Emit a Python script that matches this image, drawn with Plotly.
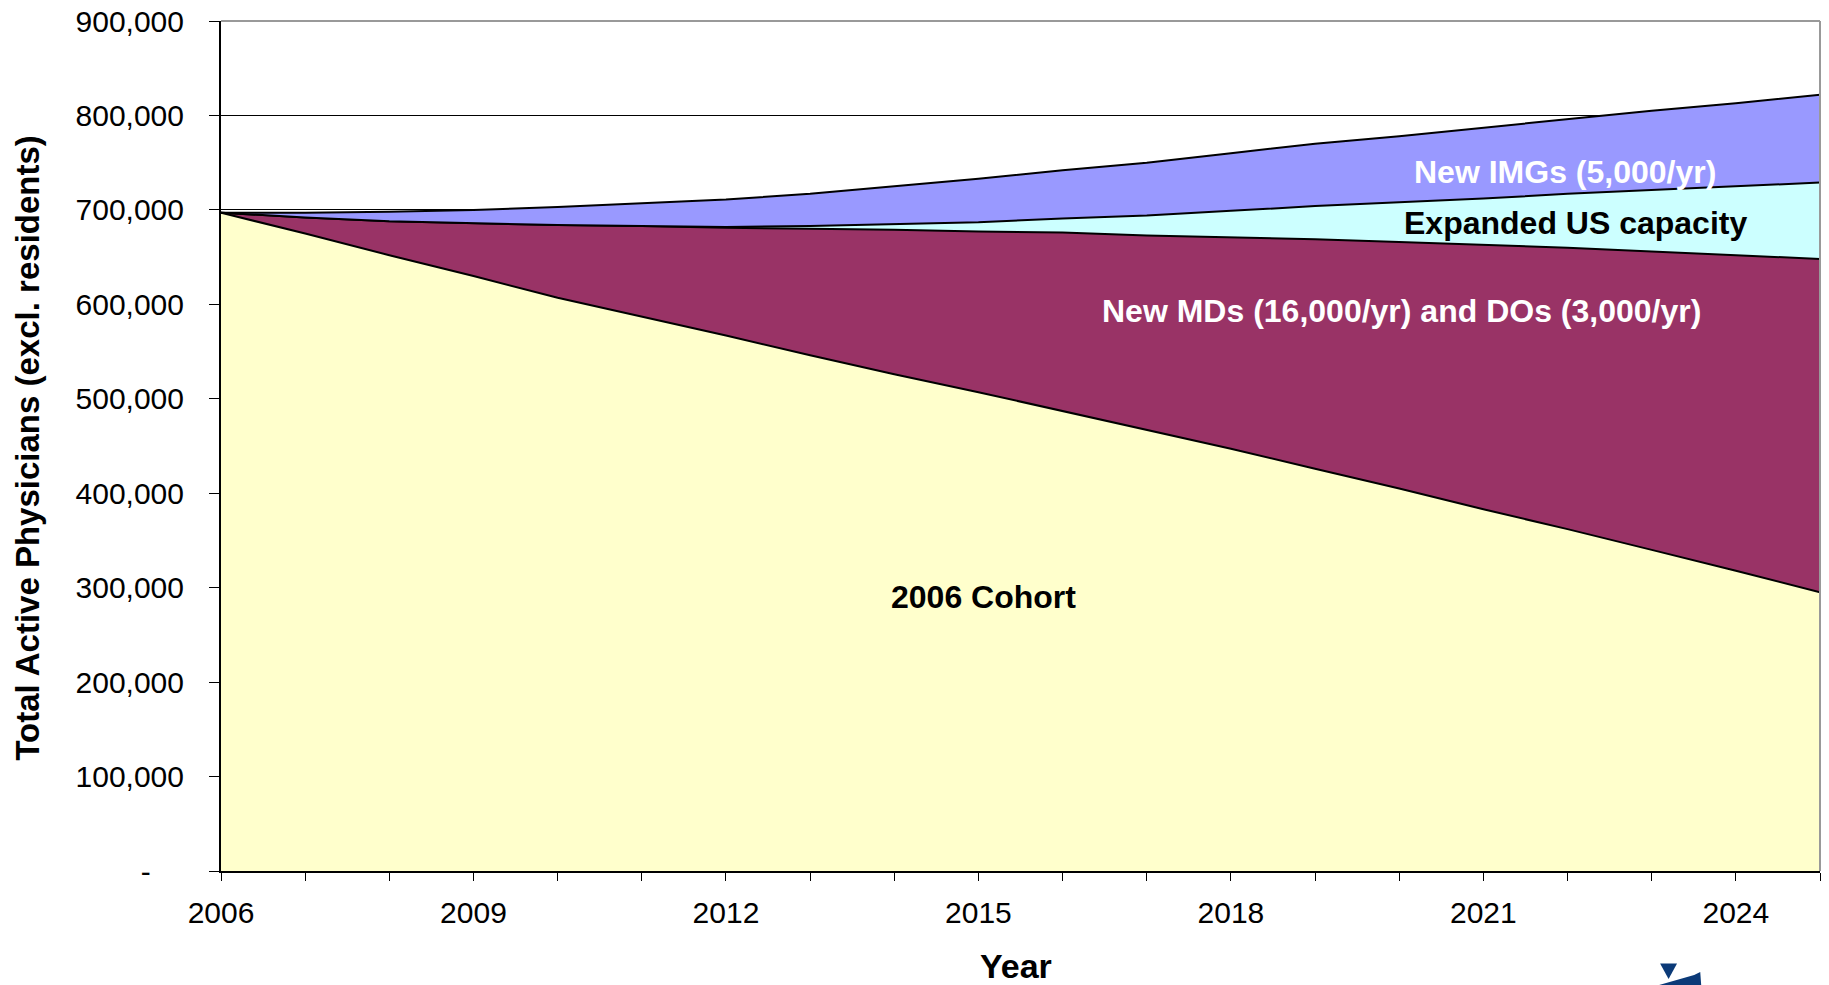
import plotly.graph_objects as go

# Projected active physician supply (excluding residents), stacked by source
years = list(range(2006, 2026))

cohort_2006 = [697000, 675000, 652000, 630000, 607000, 587000, 567000, 546000, 526000, 507000,
               487000, 467000, 447000, 426000, 405000, 383000, 362000, 340000, 318000, 295000]
new_md_do = [0, 17000, 36000, 56000, 77000, 96000, 114000, 134000, 153000, 170000,
             189000, 206000, 224000, 243000, 261000, 280000, 298000, 316000, 334000, 353000]
expanded_us = [0, 0, 0, 0, 0, 0, 1000, 3000, 6000, 10000,
               15000, 21000, 28000, 35000, 42000, 49000, 57000, 65000, 73000, 81000]
new_imgs = [0, 5000, 10000, 14000, 19000, 24000, 29000, 34000, 40000, 46000,
            51000, 56000, 61000, 66000, 70000, 75000, 79000, 84000, 88000, 93000]

series = [
    ("2006 Cohort", cohort_2006, "#FFFFCC"),
    ("New MDs and DOs", new_md_do, "#993366"),
    ("Expanded US capacity", expanded_us, "#CCFFFF"),
    ("New IMGs", new_imgs, "#9999FF"),
]

y_tickvals = [0, 100000, 200000, 300000, 400000, 500000, 600000, 700000, 800000, 900000]
y_ticktext = ["-\u00a0\u00a0\u00a0\u00a0", "100,000", "200,000", "300,000", "400,000", "500,000",
              "600,000", "700,000", "800,000", "900,000"]

FONT = "Liberation Sans, Arial, sans-serif"

fig = go.Figure()
for name, vals, color in series:
    fig.add_trace(go.Scatter(
        x=years, y=vals, name=name, mode="lines",
        stackgroup="supply", fillcolor=color,
        line=dict(color="black", width=2, shape="linear"),
    ))

# in-area labels
labels = [
    ("2006 Cohort", 2015.06, 290000, "black"),
    ("New MDs (16,000/yr) and DOs (3,000/yr)", 2020.03, 593000, "white"),
    ("Expanded US capacity", 2022.1, 686000, "black"),
    ("New IMGs (5,000/yr)", 2021.97, 740000, "white"),
]
annotations = [
    dict(x=x, y=y, xref="x", yref="y", text=f"<b>{t}</b>", showarrow=False,
         font=dict(family=FONT, size=32, color=c), xanchor="center", yanchor="middle")
    for t, x, y, c in labels
]
annotations.append(dict(
    x=-0.1216, y=0.4976, xref="paper", yref="paper", textangle=-90,
    text="<b>Total Active Physicians (excl. residents)</b>", showarrow=False,
    font=dict(family=FONT, size=33, color="black"), xanchor="center", yanchor="middle"))
annotations.append(dict(
    x=0.4973, y=-0.1112, xref="paper", yref="paper", text="<b>Year</b>", showarrow=False,
    font=dict(family=FONT, size=34, color="black"), xanchor="center", yanchor="middle"))

shapes = [
    # plot-area frame (top and right edges in grey)
    dict(type="line", xref="paper", yref="paper", x0=0, x1=1, y0=1, y1=1,
         line=dict(color="#999999", width=2), layer="above"),
    dict(type="line", xref="paper", yref="paper", x0=1, x1=1, y0=0, y1=1,
         line=dict(color="#999999", width=2), layer="above"),
    # corner logo fragment
    dict(type="path", xref="paper", yref="paper",
         path="M 0.9000,-0.1088 L 0.9106,-0.1088 L 0.9053,-0.1271 Z",
         fillcolor="#0B3A78", line=dict(width=0)),
    dict(type="path", xref="paper", yref="paper",
         path="M 0.8994,-0.1341 L 0.9213,-0.1224 L 0.9251,-0.1188 L 0.9257,-0.1341 Z",
         fillcolor="#0B3A78", line=dict(width=0)),
]

fig.update_layout(
    width=1829, height=985,
    margin=dict(l=220.5, r=9, t=21, b=114, autoexpand=False),
    paper_bgcolor="white", plot_bgcolor="white",
    showlegend=False,
    font=dict(family=FONT, size=30, color="black"),
    annotations=annotations,
    shapes=shapes,
)

fig.update_xaxes(
    automargin=False,
    range=[2006, 2025], tickmode="linear", tick0=2006, dtick=3,
    ticks="outside", ticklen=8, tickcolor="black", tickwidth=1,
    showline=True, linecolor="black", linewidth=2,
    showgrid=False, zeroline=False,
    tickfont=dict(family=FONT, size=30, color="black"),
    ticklabelstandoff=6,
    minor=dict(ticks="outside", ticklen=8, tickcolor="black", tickwidth=1,
               tick0=2006, dtick=1, showgrid=False),
)
fig.update_yaxes(
    automargin=False,
    range=[0, 900000], tickmode="array", tickvals=y_tickvals, ticktext=y_ticktext,
    ticks="outside", ticklen=10, tickcolor="black", tickwidth=1,
    showline=True, linecolor="black", linewidth=2,
    showgrid=True, gridcolor="black", gridwidth=1, zeroline=False,
    tickfont=dict(family=FONT, size=30, color="black"),
    ticklabelstandoff=19,
)

fig.write_html("out.html")
